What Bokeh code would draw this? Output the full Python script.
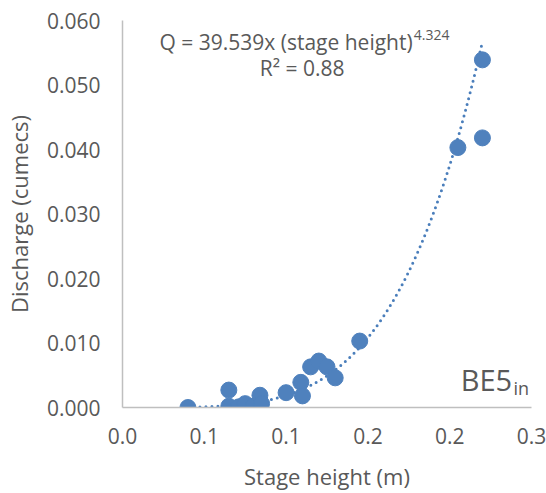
import numpy as np
from bokeh.plotting import figure
from bokeh.models import Range1d, FixedTicker, NumeralTickFormatter, Label, ColumnDataSource
from bokeh.embed import file_html
from bokeh.resources import INLINE

# ---- data ----
stage_height = [0.040, 0.065, 0.065, 0.071, 0.075, 0.080, 0.084, 0.085, 0.100, 0.109,
                0.110, 0.115, 0.120, 0.125, 0.130, 0.145, 0.205, 0.220, 0.220]
discharge = [0.0000, 0.0027, 0.0002, 0.0001, 0.0006, 0.0002, 0.0019, 0.0006, 0.0023, 0.0039,
             0.0018, 0.0063, 0.0072, 0.0063, 0.0046, 0.0103, 0.0403, 0.0539, 0.0418]

# power trend line as printed on the chart: Q = 39.539 x^4.324
trend_coef = 39.539
trend_exp = 4.324

x_ticks = [0.0, 0.05, 0.10, 0.15, 0.20, 0.25]
x_tick_labels = ["0.0", "0.1", "0.1", "0.2", "0.2", "0.3"]
y_ticks = [0.0, 0.01, 0.02, 0.03, 0.04, 0.05, 0.06]

FONT = "Open Sans"
GREY = "#595959"
BLUE = "#4F81BD"

p = figure(width=546, height=493, output_backend="svg", toolbar_location=None,
           x_range=Range1d(0, 0.25), y_range=Range1d(0, 0.06),
           min_border_left=121, min_border_right=15, min_border_top=20, min_border_bottom=86)
p.outline_line_color = None
p.xgrid.visible = False
p.ygrid.visible = False

# trend line
tx = np.linspace(min(stage_height), max(stage_height), 300)
ty = trend_coef * tx ** trend_exp
p.line(tx, ty, line_color="#4A7EBB", line_width=3, line_dash="0 6", line_cap="round")

src = ColumnDataSource(dict(x=stage_height, y=discharge))
p.scatter("x", "y", source=src, size=16, fill_color=BLUE, line_color=BLUE)

for ax in (p.xaxis[0], p.yaxis[0]):
    ax.axis_line_color = "#BFBFBF"
    ax.axis_line_width = 1.5
    ax.major_tick_line_color = None
    ax.minor_tick_line_color = None
    ax.major_tick_out = 0
    ax.major_tick_in = 0
    ax.major_label_text_font = FONT
    ax.major_label_text_font_size = "21px"
    ax.major_label_text_color = GREY
    ax.axis_label_text_font = FONT
    ax.axis_label_text_font_size = "22px"
    ax.axis_label_text_font_style = "normal"
    ax.axis_label_text_color = GREY

p.xaxis.ticker = FixedTicker(ticks=x_ticks)
p.xaxis.major_label_overrides = {t: l for t, l in zip(x_ticks, x_tick_labels)}
p.xaxis.major_label_standoff = 20
p.xaxis.axis_label = "Stage height (m)"
p.xaxis.axis_label_standoff = 14

p.yaxis.ticker = FixedTicker(ticks=y_ticks)
p.yaxis.formatter = NumeralTickFormatter(format="0.000")
p.yaxis.major_label_standoff = 22
p.yaxis.axis_label = "Discharge (cumecs)"
p.yaxis.axis_label_standoff = 10

def add_label(x, y, text, size, align="left", color=GREY):
    p.add_layout(Label(x=x, y=y, text=text, text_font=FONT, text_font_size=size,
                       text_color=color, text_align=align, text_baseline="alphabetic"))

add_label(0.0226, 0.0567, "Q = 39.539x (stage height)", "21px")
add_label(0.178, 0.0578, "4.324", "14px")
add_label(0.1098, 0.0526, "R² = 0.88", "21px", align="center")
add_label(0.2067, 0.0043, "BE5", "29px")
add_label(0.2390, 0.0030, "in", "18px")

open("out.html", "w").write(file_html(p, INLINE))
